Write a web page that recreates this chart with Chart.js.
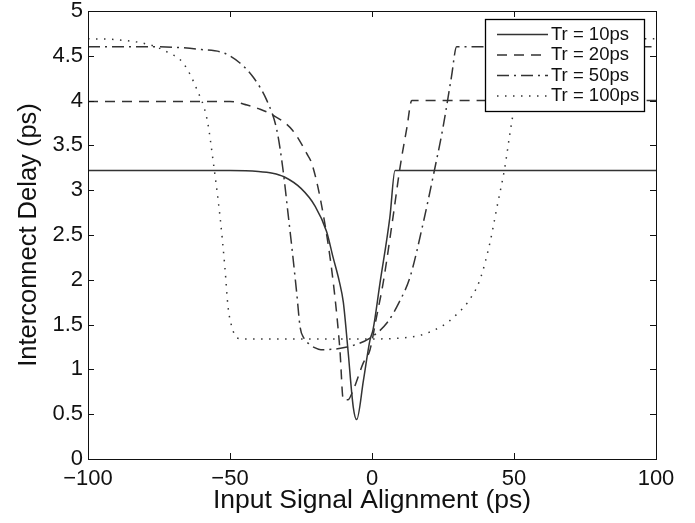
<!DOCTYPE html>
<html>
<head>
<meta charset="utf-8">
<script src="https://cdn.jsdelivr.net/npm/chart.js@4.4.1/dist/chart.umd.min.js"></script>
<style>
  body { margin: 0; background: #fff; }
  canvas { display: block; }
</style>
</head>
<body>
<canvas id="myChart" width="695" height="523"></canvas>
<script>
// values
var labels = ['Tr = 10ps', 'Tr = 20ps', 'Tr = 50ps', 'Tr = 100ps'];

var tr10X = [-100, -50, -40, -35, -31, -25, -20, -16, -13.7, -11.5, -10.1, -8.5, -6.6, -5.4, -3, -0.7, 0.35, 2.8, 6.3, 8.1, 9, 100];
var tr10Y = [3.22, 3.22, 3.21, 3.19, 3.15, 3.02, 2.82, 2.54, 2.25, 1.98, 1.75, 1.23, 0.58, 0.44, 0.88, 1.33, 1.44, 1.96, 2.70, 3.22, 3.22, 3.22];

var tr20X = [-100, -50, -44, -40, -35, -28, -23, -21, -17, -13.6, -11.3, -10.1, -8.5, -6.6, -3.1, -0.7, 1.5, 3.9, 7.4, 9.9, 12.3, 14, 100];
var tr20Y = [3.99, 3.99, 3.95, 3.91, 3.84, 3.67, 3.41, 3.28, 2.70, 1.96, 1.22, 0.66, 0.66, 0.77, 1.07, 1.22, 1.57, 1.96, 2.70, 3.26, 3.70, 4.00, 4.00];

var tr50X = [-100, -75, -60, -52, -46.5, -41.8, -37, -33.5, -31.3, -29.6, -28, -26.5, -25.3, -24, -22, -20, -18, -8.8, -0.7, 5.3, 9.9, 13.4, 18, 21.5, 25, 28, 29.8, 100];
var tr50Y = [4.60, 4.60, 4.57, 4.53, 4.42, 4.26, 4.00, 3.67, 3.22, 2.75, 2.30, 1.85, 1.47, 1.35, 1.28, 1.24, 1.22, 1.25, 1.35, 1.52, 1.77, 2.03, 2.63, 3.15, 3.70, 4.27, 4.60, 4.60];

var tr100X = [-100, -90, -78, -72, -66.5, -61.6, -58, -56, -53.5, -51.8, -50.7, -49.3, -47.5, -45, 0, 10, 16.9, 22, 26.4, 30, 33.5, 38, 41.5, 44, 46.8, 48.6, 50.5, 53, 56, 60, 100];
var tr100Y = [4.69, 4.68, 4.62, 4.54, 4.42, 4.12, 3.78, 3.34, 2.70, 2.14, 1.70, 1.47, 1.35, 1.34, 1.34, 1.35, 1.38, 1.44, 1.52, 1.62, 1.74, 2.00, 2.41, 2.81, 3.26, 3.64, 4.00, 4.35, 4.60, 4.69, 4.69];

var xTickStep = 50;
var yTickStep = 0.5;

var font = 'Liberation Sans, Arial, Helvetica, sans-serif';
var lineColor = '#333';

function pts(xs, ys) {
    return xs.map(function (v, i) { return { x: v, y: ys[i] }; });
}

// inward ticks, full box and the legend, drawn like matlab does
var matlabFrame = {
    id: 'matlabFrame',
    afterDraw: function (chart) {
        var ctx = chart.ctx;
        var a = chart.chartArea;
        var xs = chart.scales.x, ys = chart.scales.y;
        var tl = 6;
        ctx.save();
        ctx.strokeStyle = '#111';
        ctx.lineWidth = 1;
        ctx.setLineDash([]);
        ctx.strokeRect(Math.round(a.left) + 0.5, Math.round(a.top) + 0.5,
            Math.round(a.right - a.left), Math.round(a.bottom - a.top));
        ctx.beginPath();
        xs.ticks.forEach(function (t) {
            var px = Math.round(xs.getPixelForValue(t.value)) + 0.5;
            ctx.moveTo(px, a.bottom); ctx.lineTo(px, a.bottom - tl);
            ctx.moveTo(px, a.top); ctx.lineTo(px, a.top + tl);
        });
        ys.ticks.forEach(function (t) {
            var py = Math.round(ys.getPixelForValue(t.value)) + 0.5;
            ctx.moveTo(a.left, py); ctx.lineTo(a.left + tl, py);
            ctx.moveTo(a.right, py); ctx.lineTo(a.right - tl, py);
        });
        ctx.stroke();

        // legend box
        var bx = 485.5, by = 19.5, bw = 159, bh = 92;
        ctx.fillStyle = '#fff';
        ctx.fillRect(bx, by, bw, bh);
        ctx.strokeStyle = '#000';
        ctx.lineWidth = 1.3;
        ctx.strokeRect(bx, by, bw, bh);
        ctx.font = '18.5px ' + font;
        ctx.textBaseline = 'middle';
        ctx.fillStyle = '#111';
        chart.data.datasets.forEach(function (ds, i) {
            var cy = 34.5 + i * 20.5;
            ctx.strokeStyle = ds.borderColor;
            ctx.lineWidth = ds.borderWidth;
            ctx.setLineDash(ds.borderDash);
            ctx.beginPath();
            ctx.moveTo(497, cy); ctx.lineTo(548, cy);
            ctx.stroke();
            ctx.setLineDash([]);
            ctx.fillText(ds.label, 551, cy);
        });
        ctx.restore();
    }
};

var ctx = document.getElementById('myChart').getContext('2d');

var chart = new Chart(ctx, {
    type: 'scatter',
    data: {
        datasets: [
            { label: labels[0], data: pts(tr10X, tr10Y), borderDash: [] },
            { label: labels[1], data: pts(tr20X, tr20Y), borderDash: [10, 7] },
            { label: labels[2], data: pts(tr50X, tr50Y), borderDash: [12, 5, 2, 5] },
            { label: labels[3], data: pts(tr100X, tr100Y), borderDash: [1.5, 6.5] }
        ].map(function (d) {
            d.showLine = true;
            d.borderColor = lineColor;
            d.borderWidth = 1.5;
            d.pointRadius = 0;
            d.cubicInterpolationMode = 'monotone';
            return d;
        })
    },
    options: {
        responsive: false,
        devicePixelRatio: 1,
        animation: false,
        layout: { padding: { left: 0, top: 11, right: 39, bottom: 0 } },
        plugins: {
            legend: { display: false },
            tooltip: { enabled: false }
        },
        scales: {
            x: {
                type: 'linear',
                min: -100,
                max: 100,
                grid: { display: false, drawTicks: false },
                border: { display: false },
                ticks: {
                    stepSize: xTickStep,
                    color: '#111',
                    padding: 7,
                    font: { family: font, size: 22 },
                    callback: function (v) { return String(v).replace('-', '\u2212'); }
                },
                title: {
                    display: true,
                    text: 'Input Signal Alignment (ps)',
                    color: '#111',
                    font: { family: font, size: 26.5 },
                    padding: { top: 0, bottom: 6 }
                },
                afterFit: function (s) { s.height = 64; s.paddingLeft = 0; s.paddingRight = 0; }
            },
            y: {
                min: 0,
                max: 5,
                grid: { display: false, drawTicks: false },
                border: { display: false },
                ticks: {
                    stepSize: yTickStep,
                    color: '#111',
                    padding: 5,
                    font: { family: font, size: 22 },
                    callback: function (v) { return String(v); }
                },
                title: {
                    display: true,
                    text: 'Interconnect Delay (ps)',
                    color: '#111',
                    font: { family: font, size: 25.5 },
                    padding: { top: 14, bottom: 0 }
                },
                afterFit: function (s) { s.width = 88; s.paddingTop = 0; s.paddingBottom = 0; }
            }
        }
    },
    plugins: [matlabFrame]
});
</script>
</body>
</html>
